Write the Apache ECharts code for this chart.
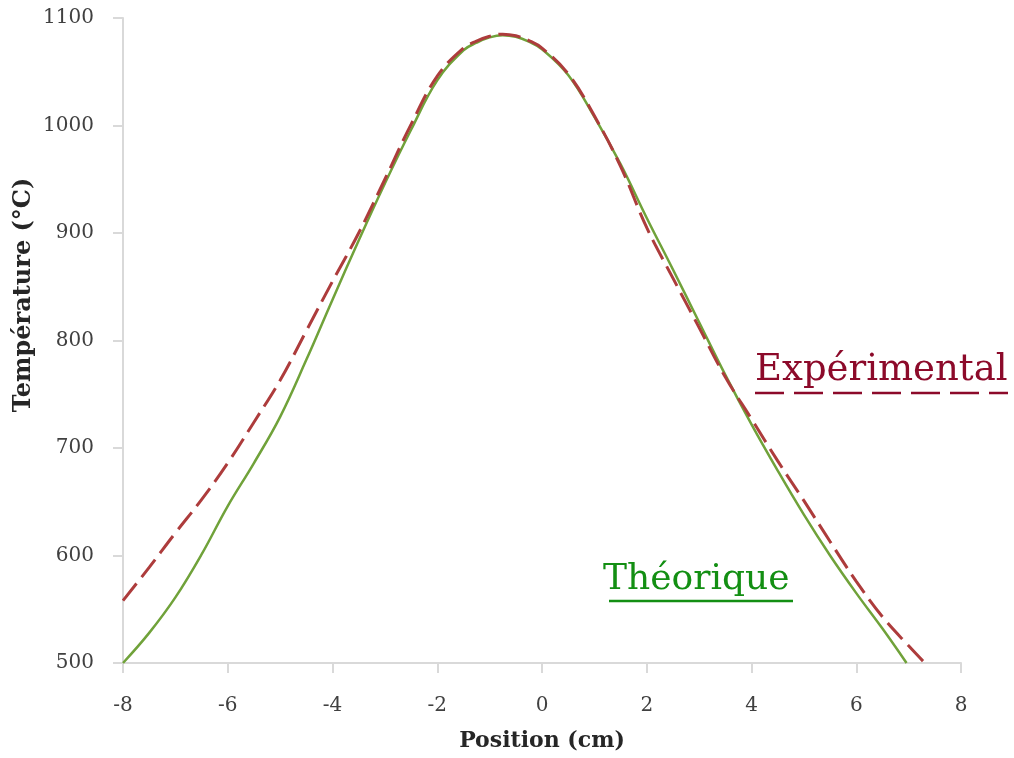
<!DOCTYPE html>
<html>
<head>
<meta charset="utf-8">
<script src="https://cdn.jsdelivr.net/npm/echarts@6/dist/echarts.min.js"></script>
<style>html,body{margin:0;padding:0;background:#fff}#c{width:1014px;height:758px}</style>
</head>
<body>
<div id="c"></div>
<script>
const xTheo = [-8, -7.5, -7, -6.5, -6, -5.5, -5, -4.5, -4, -3.5, -3, -2.5, -2, -1.5, -1.25, -1, -0.75, -0.5, -0.25, 0, 0.5, 1, 1.5, 2, 2.5, 3, 3.5, 4, 4.5, 5, 5.5, 6, 6.5, 6.96];
const yTheo = [500, 528, 561, 601, 646, 686, 729, 782, 838, 893, 946, 996, 1042, 1070, 1077, 1082, 1084, 1082.5, 1078, 1071, 1047, 1008, 964, 914, 866, 817, 768, 722, 679, 638, 600, 565, 532, 500];
const xExp = [-8, -7.5, -7, -6.5, -6, -5.5, -5, -4.5, -4, -3.5, -3, -2.5, -2, -1.5, -1.25, -1, -0.75, -0.5, -0.25, 0, 0.5, 1, 1.5, 2, 2.5, 3, 3.5, 4, 4.5, 5, 5.5, 6, 6.5, 7, 7.31];
const yExp = [558, 589, 621, 652, 686, 724, 763, 809, 855, 900, 950, 1001, 1046, 1072, 1078.5, 1083, 1085, 1083.5, 1079, 1072, 1048, 1009, 962, 905, 858, 812, 766, 727, 688, 651, 613, 576, 543, 516, 500];
const xTicks = [-8, 8, 2];
const yTicks = [500, 1100, 100];
const nameTheo = 'Théorique';
const nameExp = 'Expérimental';
const xTitle = 'Position (cm)';
const yTitle = 'Température (°C)';

const FONT = 'DejaVu Serif';
const chart = echarts.init(document.getElementById('c'), null, {renderer: 'canvas'});
const pairs = (xs, ys) => xs.map((x, i) => [x, ys[i]]);
chart.setOption({
  animation: false,
  backgroundColor: '#ffffff',
  grid: {left: 123, right: 53, top: 18, bottom: 95},
  xAxis: {
    type: 'value', min: xTicks[0], max: xTicks[1], interval: xTicks[2],
    name: xTitle, nameLocation: 'middle', nameGap: 67,
    nameTextStyle: {fontFamily: FONT, fontWeight: 'bold', fontSize: 22, color: '#262626'},
    axisLine: {show: true, onZero: false, lineStyle: {color: '#d9d9d9', width: 2}},
    axisTick: {show: true, inside: false, length: 10, lineStyle: {color: '#d9d9d9', width: 2}},
    axisLabel: {fontFamily: FONT, fontSize: 20, color: '#404040', margin: 33, formatter: v => String(v)},
    splitLine: {show: false}
  },
  yAxis: {
    type: 'value', min: yTicks[0], max: yTicks[1], interval: yTicks[2],
    axisLine: {show: true, onZero: false, lineStyle: {color: '#d9d9d9', width: 2}},
    axisTick: {show: true, inside: false, length: 10, lineStyle: {color: '#d9d9d9', width: 2}},
    axisLabel: {fontFamily: FONT, fontSize: 20, color: '#404040', margin: 29, formatter: v => String(v)},
    splitLine: {show: false}
  },
  series: [
    {
      name: nameTheo, type: 'line', smooth: 0.4, showSymbol: false, z: 2,
      data: pairs(xTheo, yTheo),
      lineStyle: {color: '#70a23a', width: 2.5}
    },
    {
      name: nameExp, type: 'line', smooth: 0.4, showSymbol: false, z: 3,
      data: pairs(xExp, yExp),
      lineStyle: {color: '#ad3c3c', width: 3, type: [22, 8]}
    }
  ],
  graphic: [
    {type: 'text', x: 24, y: 295, rotation: Math.PI / 2, silent: true,
     style: {text: yTitle, font: 'bold 24px "' + FONT + '"', fill: '#262626', align: 'center', verticalAlign: 'middle'}},
    {type: 'text', x: 755, y: 370, silent: true,
     style: {text: nameExp, font: '37px "' + FONT + '"', fill: '#8c0a2a', align: 'left', verticalAlign: 'middle'}},
    {type: 'line', silent: true, shape: {x1: 755, y1: 393, x2: 1008, y2: 393},
     style: {stroke: '#8c0a2a', lineWidth: 2.5, lineDash: [29, 10]}},
    {type: 'text', x: 603, y: 580, silent: true,
     style: {text: nameTheo, font: '36px "' + FONT + '"', fill: '#138f13', align: 'left', verticalAlign: 'middle'}},
    {type: 'line', silent: true, shape: {x1: 609, y1: 601, x2: 793, y2: 601},
     style: {stroke: '#138f13', lineWidth: 2.5}}
  ]
});
</script>
</body>
</html>
